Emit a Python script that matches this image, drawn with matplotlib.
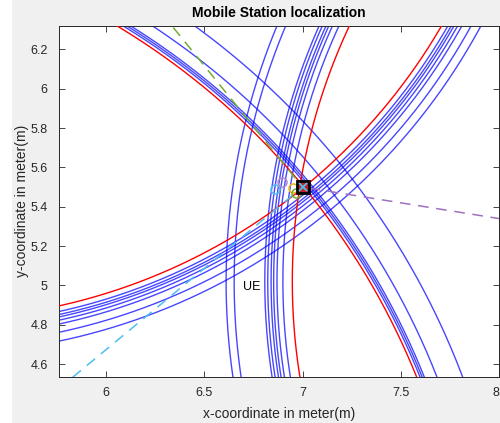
import numpy as np
import matplotlib
matplotlib.use("Agg")
import matplotlib.pyplot as plt
from matplotlib.patches import Rectangle

plt.rcParams['font.family'] = ['Liberation Sans', 'DejaVu Sans']

# Anchors (centres of the range circles)
anchor_x = [4.156, 5.11, 10.0]
anchor_y = [3.151, 7.83, 5.02]
# true-range circle (red) for each anchor
red_radius = [3.694, 3.005, 3.052]
# noisy range circles (blue) per anchor
blue_radii_a = [3.71, 3.72, 3.73, 3.79, 3.912]
blue_radii_b = [3.033, 3.048, 3.06, 3.076, 3.095, 3.136, 3.18]
blue_radii_c = [3.10, 3.13, 3.147, 3.16, 3.177, 3.192, 3.348, 3.389]

# UE position and position estimates
ue_x, ue_y = 7.0, 5.5
est_x = [6.86, 6.894, 6.953, 6.965]
est_y = [5.49, 5.528, 5.494, 5.468]
est_colors = ['#4dbeee', '#b08ccc', '#edb120', '#77ac30']
# dashed lines from anchors to the UE
dash_colors = ['#4dbeee', '#77ac30', '#a070c0']

xticks = [6, 6.5, 7, 7.5, 8]
xticklabels = ['6', '6.5', '7', '7.5', '8']
yticks = [4.6, 4.8, 5.0, 5.2, 5.4, 5.6, 5.8, 6.0, 6.2]
yticklabels = ['4.6', '4.8', '5', '5.2', '5.4', '5.6', '5.8', '6', '6.2']

fig = plt.figure(figsize=(5.0, 4.23), dpi=100)
fig.patch.set_facecolor('white')
fig.add_artist(Rectangle((12 / 500, 0), 1 - 12 / 500, 1, transform=fig.transFigure,
                         facecolor='#f0f0f0', edgecolor='none', zorder=-10))

ax = fig.add_axes([58.7 / 500, 1 - 377 / 423, (499 - 58.7) / 500, (377 - 25.7) / 423])
ax.set_facecolor('white')

theta = np.linspace(0, 2 * np.pi, 4000)
blue_sets = [blue_radii_a, blue_radii_b, blue_radii_c]
for cx, cy, rr, blues in zip(anchor_x, anchor_y, red_radius, blue_sets):
    for r in blues:
        ax.plot(cx + r * np.cos(theta), cy + r * np.sin(theta), color=(0.0, 0.0, 1.0),
                lw=1.0, alpha=0.72, zorder=2)
    ax.plot(cx + rr * np.cos(theta), cy + rr * np.sin(theta), color='#ff0000', lw=1.0, zorder=3)

for cx, cy, c in zip(anchor_x, anchor_y, dash_colors):
    ax.plot([cx, ue_x], [cy, ue_y], color=c, lw=1.1, ls=(0, (7, 5)), zorder=3.5)

for ex, ey, c in zip(est_x, est_y, est_colors):
    ax.plot(ex, ey, 'o', ms=6.5, mfc='none', mec=c, mew=1.1, zorder=4)

ax.plot(ue_x, ue_y, 's', ms=9, mfc='#c0202a', mec='black', mew=2.0, zorder=5)
ax.plot(ue_x, ue_y, 'x', ms=5.5, mec='#4dbeee', mew=1.3, zorder=6)

ax.text(6.697, 4.99, 'UE', fontsize=9, color='black', ha='left', va='center')

ax.set_xlim(5.759, 8.0)
ax.set_ylim(4.535, 6.32)
ax.set_xticks(xticks)
ax.set_xticklabels(xticklabels)
ax.set_yticks(yticks)
ax.set_yticklabels(yticklabels)
ax.tick_params(direction='in', length=4, width=0.6, colors='#262626', labelsize=9,
               top=True, right=True)
ax.tick_params(axis='x', pad=7)
ax.tick_params(axis='y', pad=8)
# keep the last x tick label inside the picture
ax.get_xticklabels()[-1].set_horizontalalignment('right')
for s in ax.spines.values():
    s.set_color('#262626')
    s.set_linewidth(0.7)

ax.set_title('Mobile Station localization', fontsize=10, fontweight='bold', color='black', pad=6)
ax.set_xlabel('x-coordinate in meter(m)', fontsize=10, color='#262626', labelpad=6)
ax.set_ylabel('y-coordinate in meter(m)', fontsize=10, color='#262626', labelpad=1)

fig.savefig('out.png', dpi=100, facecolor=fig.get_facecolor())
